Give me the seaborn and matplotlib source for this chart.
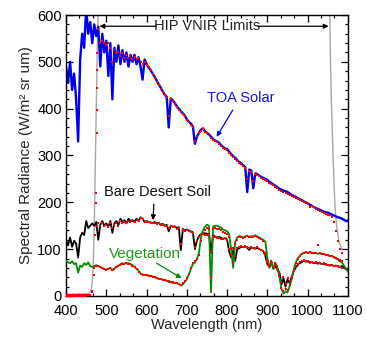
import numpy as np
import pandas as pd
import matplotlib
matplotlib.use("Agg")
import matplotlib.pyplot as plt
import seaborn as sns

# Wavelength grids (nm)
wl = np.arange(400, 1101, 5)
wl_red = np.arange(400, 1086, 5)
wl_red_toa = np.arange(480, 1086, 5)

# Top-of-atmosphere solar radiance
toa_solar = [
    490, 455, 500, 440, 475, 420, 330, 505, 560, 530,
    615, 560, 585, 540, 580, 555, 575, 490, 560, 520,
    545, 470, 540, 420, 530, 500, 535, 495, 525, 500,
    520, 490, 515, 500, 515, 495, 510, 490, 462, 505,
    495, 488, 482, 475, 468, 460, 452, 445, 437, 430,
    425, 360, 422, 418, 412, 405, 400, 395, 390, 385,
    377, 372, 368, 362, 325, 340, 348, 355, 358, 352,
    348, 345, 340, 335, 332, 330, 327, 322, 318, 315,
    314, 308, 303, 298, 295, 290, 286, 283, 279, 275,
    222, 270, 268, 230, 262, 260, 257, 254, 252, 250,
    248, 244, 241, 238, 235, 232, 229, 227, 225, 224,
    222, 219, 216, 214, 212, 209, 207, 205, 202, 200,
    198, 195, 193, 190, 188, 186, 184, 182, 180, 179,
    178, 176, 174, 172, 170, 168, 167, 165, 163, 160,
    161,
]

# Bare desert soil radiance
soil = [
    120, 108, 125, 105, 118, 112, 82, 125, 135, 130,
    160, 145, 150, 155, 150, 158, 120, 152, 160, 150,
    155, 148, 160, 135, 155, 160, 152, 165, 158, 162,
    155, 165, 160, 162, 158, 165, 160, 168, 165, 158,
    160, 158, 157, 156, 158, 155, 156, 152, 154, 150,
    152, 138, 150, 148, 149, 145, 147, 98, 143, 140,
    142, 140, 138, 136, 100, 118, 128, 132, 134, 134,
    133, 132, 92, 130, 127, 125, 126, 124, 122, 124,
    120, 95, 82, 98, 75, 100, 102, 105, 104, 106,
    103, 98, 104, 102, 101, 103, 100, 98, 96, 85,
    68, 62, 72, 58, 65, 55, 50, 25, 38, 20,
    35, 28, 40, 52, 60, 66, 70, 72, 75, 73,
    74, 71, 72, 70, 71, 69, 70, 68, 69, 67,
    66, 65, 66, 64, 65, 63, 62, 64, 60, 58,
    55,
]

# Green vegetation radiance
vegetation = [
    75, 72, 70, 74, 68, 70, 50, 65, 62, 70,
    66, 72, 64, 62, 64, 66, 64, 62, 60, 58,
    56, 58, 60, 55, 58, 62, 64, 68, 70, 69,
    70, 70, 68, 66, 62, 58, 54, 48, 46, 45,
    44, 44, 43, 42, 40, 38, 37, 36, 35, 34,
    33, 30, 29, 28, 28, 27, 26, 22, 25, 30,
    36, 46, 58, 68, 72, 78, 92, 125, 140, 148,
    152, 150, 8, 148, 150, 150, 148, 146, 142, 140,
    138, 132, 100, 60, 115, 125, 128, 127, 125, 127,
    129, 126, 128, 127, 130, 127, 125, 122, 120, 116,
    80, 60, 75, 58, 70, 62, 40, 15, 5, 10,
    8, 20, 35, 55, 70, 80, 85, 90, 92, 93,
    92, 94, 93, 91, 92, 90, 91, 89, 90, 88,
    87, 85, 86, 82, 80, 78, 74, 72, 65, 58,
    52,
]

# Instrument-sampled radiances
toa_measured = [
    570, 540, 545, 540, 535, 540, 530, 500, 525, 518,
    520, 512, 518, 508, 515, 508, 512, 505, 510, 505,
    508, 500, 495, 500, 494, 488, 482, 474, 466, 458,
    451, 443, 436, 430, 425, 385, 420, 416, 410, 404,
    398, 393, 388, 384, 376, 372, 366, 360, 332, 342,
    348, 353, 356, 351, 347, 344, 338, 334, 331, 328,
    325, 321, 317, 314, 311, 306, 301, 297, 293, 289,
    285, 281, 278, 274, 250, 266, 264, 245, 261, 258,
    256, 253, 250, 248, 245, 242, 239, 236, 233, 230,
    227, 225, 222, 220, 218, 216, 214, 212, 209, 207,
    205, 203, 201, 198, 196, 190, 192, 189, 186, 184,
    182, 180, 178, 176, 174, 172, 168, 158, 138, 118,
    100, 92,
]

soil_measured = [
    2, 2, 2, 2, 2, 2, 2, 2, 2, 2,
    2, 3, 3, 10, 60, 150, 155, 150, 155, 150,
    152, 148, 155, 145, 152, 156, 150, 160, 156, 158,
    155, 160, 158, 160, 158, 162, 160, 166, 164, 158,
    158, 157, 156, 155, 156, 154, 155, 151, 152, 149,
    150, 146, 149, 147, 147, 144, 145, 110, 141, 139,
    140, 138, 137, 134, 105, 118, 126, 130, 132, 131,
    130, 130, 95, 128, 125, 123, 124, 122, 121, 123,
    119, 100, 90, 102, 85, 103, 104, 106, 105, 107,
    104, 102, 105, 103, 102, 104, 101, 99, 97, 88,
    72, 65, 70, 62, 66, 58, 52, 30, 40, 25,
    38, 32, 42, 55, 62, 68, 72, 74, 76, 74,
    75, 72, 73, 71, 72, 70, 71, 69, 70, 68,
    67, 66, 67, 65, 64, 63, 62, 60,
]

veg_measured = [
    1, 1, 1, 1, 1, 1, 1, 1, 1, 1,
    1, 2, 2, 8, 45, 64, 63, 62, 60, 58,
    56, 57, 59, 56, 58, 61, 64, 67, 69, 69,
    70, 69, 68, 65, 61, 57, 52, 47, 45, 44,
    44, 43, 42, 41, 40, 38, 37, 36, 35, 34,
    33, 31, 30, 29, 28, 27, 26, 24, 27, 32,
    38, 48, 60, 70, 75, 80, 88, 118, 132, 140,
    145, 144, 40, 142, 145, 144, 142, 140, 137, 134,
    132, 126, 100, 70, 112, 120, 125, 127, 124, 126,
    128, 125, 127, 126, 128, 126, 124, 121, 118, 92,
    76, 66, 74, 62, 70, 64, 42, 18, 10, 14,
    12, 24, 38, 56, 70, 80, 86, 90, 92, 93,
    92, 93, 92, 91, 92, 108, 91, 90, 89, 88,
    87, 86, 86, 84, 82, 78, 76, 74,
]

# Sparse samples caught on the rising band edge
edge_wl = [478, 478, 478, 478, 478, 474, 474, 472]
edge_val = [519, 483, 444, 397, 348, 220, 198, 130]

# HIP VNIR system response envelope
resp_wl = [400, 430, 455, 460, 463, 466, 468, 470, 472, 474, 476, 478, 481,
           1050, 1055, 1057, 1059, 1061, 1063, 1066, 1068, 1072, 1078, 1085]
resp_val = [4, 4, 5, 8, 15, 40, 80, 150, 250, 350, 450, 550, 650,
            650, 600, 490, 415, 360, 300, 230, 190, 150, 115, 100]

sns.set_style("ticks")
plt.rcParams["font.family"] = ["Liberation Sans", "DejaVu Sans"]
FS = 10.5

fig = plt.figure(figsize=(3.67, 3.41), dpi=100)
ax = fig.add_axes([0.180, 0.132, 0.768, 0.824])

def line(x, y, color, lw, z):
    d = pd.DataFrame({"x": x, "y": y})
    sns.lineplot(data=d, x="x", y="y", color=color, lw=lw, ax=ax,
                 zorder=z, estimator=None, sort=False)

def dots(x, y, z=6):
    d = pd.DataFrame({"x": x, "y": y})
    sns.scatterplot(data=d, x="x", y="y", color="#ff0000", marker="s",
                    s=3.2, linewidth=0, ax=ax, zorder=z)

line(resp_wl, resp_val, "#a6a6a6", 1.0, 1)
line(wl, toa_solar, "#0000ee", 1.7, 2)
line(wl, soil, "#000000", 1.3, 3)
line(wl, vegetation, "#008a00", 1.3, 4)

dots(wl_red_toa, toa_measured)
dots(wl_red, soil_measured)
dots(wl_red, veg_measured)
dots(edge_wl, edge_val)

ax.set_xlim(400, 1100)
ax.set_ylim(0, 600)
ax.set_xticks(np.arange(400, 1101, 100))
ax.set_yticks(np.arange(0, 601, 100))
ax.set_xticks(np.arange(400, 1101, 100 / 3), minor=True)
ax.set_yticks(np.arange(0, 601, 20), minor=True)
ax.tick_params(which="both", direction="in", top=True, right=True,
               colors="black", labelsize=FS, width=0.9)
ax.tick_params(axis="x", pad=6)
ax.tick_params(axis="y", pad=3)
ax.tick_params(which="major", length=5)
ax.tick_params(which="minor", length=2.5)
for s in ax.spines.values():
    s.set_visible(True)
    s.set_linewidth(1.0)
    s.set_color("black")

ax.set_xlabel("Wavelength (nm)", fontsize=FS, labelpad=0)
ax.set_ylabel("Spectral Radiance (W/m² sr um)", fontsize=FS + 0.5, labelpad=3)

# Annotations
ax.text(750, 576, "HIP VNIR Limits", ha="center", va="center", fontsize=FS,
        color="#222222", zorder=8)
head = dict(arrowstyle="-|>", lw=0.9, mutation_scale=7, shrinkA=0, shrinkB=0)
ax.annotate("", xy=(483, 576), xytext=(624, 576),
            arrowprops=dict(color="black", **head), zorder=8)
ax.annotate("", xy=(1052, 576), xytext=(876, 576),
            arrowprops=dict(color="black", **head), zorder=8)

ax.text(834, 423, "TOA Solar", ha="center", va="center", fontsize=FS,
        color="#1414e6", zorder=8)
ax.annotate("", xy=(774, 340), xytext=(814, 397),
            arrowprops=dict(color="#0000ee", **head), zorder=8)

ax.text(628, 221, "Bare Desert Soil", ha="center", va="center", fontsize=FS,
        color="#111111", zorder=8)
ax.annotate("", xy=(616, 162), xytext=(618, 196),
            arrowprops=dict(color="black", **head), zorder=8)

ax.text(595, 90, "Vegetation", ha="center", va="center", fontsize=FS + 0.5,
        color="#1f9a1f", zorder=8)
ax.annotate("", xy=(687, 38), xytext=(625, 70),
            arrowprops=dict(color="#008a00", **head), zorder=8)

fig.savefig("out.png", dpi=100)
